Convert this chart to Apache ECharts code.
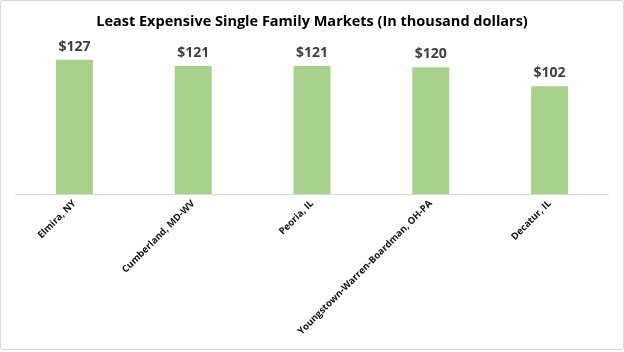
<!DOCTYPE html>
<html>
<head>
<meta charset="utf-8">
<script src="https://cdn.jsdelivr.net/npm/echarts@6/dist/echarts.min.js"></script>
<style>
  html, body { margin: 0; padding: 0; background: #fff; }
  #main { width: 622px; height: 348px; border: 1px solid #d9d9d9; border-radius: 3px; }
</style>
</head>
<body>
<div id="main"></div>
<script>
// 数据
var markets = ['Elmira, NY', 'Cumberland, MD-WV', 'Peoria, IL', 'Youngstown-Warren-Boardman, OH-PA', 'Decatur, IL'];
var prices = [127, 121, 121, 120, 102];

var myChart = echarts.init(document.getElementById('main'));

var option = {
    animation: false,
    title: {
        text: 'Least Expensive Single Family Markets (In thousand dollars)',
        left: 'center',
        top: 8,
        textStyle: {
            fontFamily: 'Open Sans',
            fontSize: 14.5,
            fontWeight: 'bold',
            color: '#000'
        }
    },
    grid: {
        left: 14,
        right: 14,
        top: 45,
        height: 148
    },
    xAxis: {
        type: 'category',
        data: markets,
        axisLine: { lineStyle: { color: '#d9d9d9', width: 1 } },
        axisTick: { show: false },
        axisLabel: {
            rotate: 45,
            interval: 0,
            margin: 8,
            fontFamily: 'Open Sans',
            fontSize: 9.5,
            fontWeight: 'bold',
            color: '#111'
        }
    },
    yAxis: {
        type: 'value',
        min: 0,
        max: 140,
        show: false,
        splitLine: { show: false }
    },
    series: [{
        type: 'bar',
        data: prices,
        barWidth: 37,
        itemStyle: { color: '#a9d18e' },
        label: {
            show: true,
            position: 'top',
            distance: 6,
            formatter: '${c}',
            fontFamily: 'Open Sans',
            fontSize: 14,
            fontWeight: 'bold',
            color: '#404040'
        }
    }]
};

myChart.setOption(option);
</script>
</body>
</html>
